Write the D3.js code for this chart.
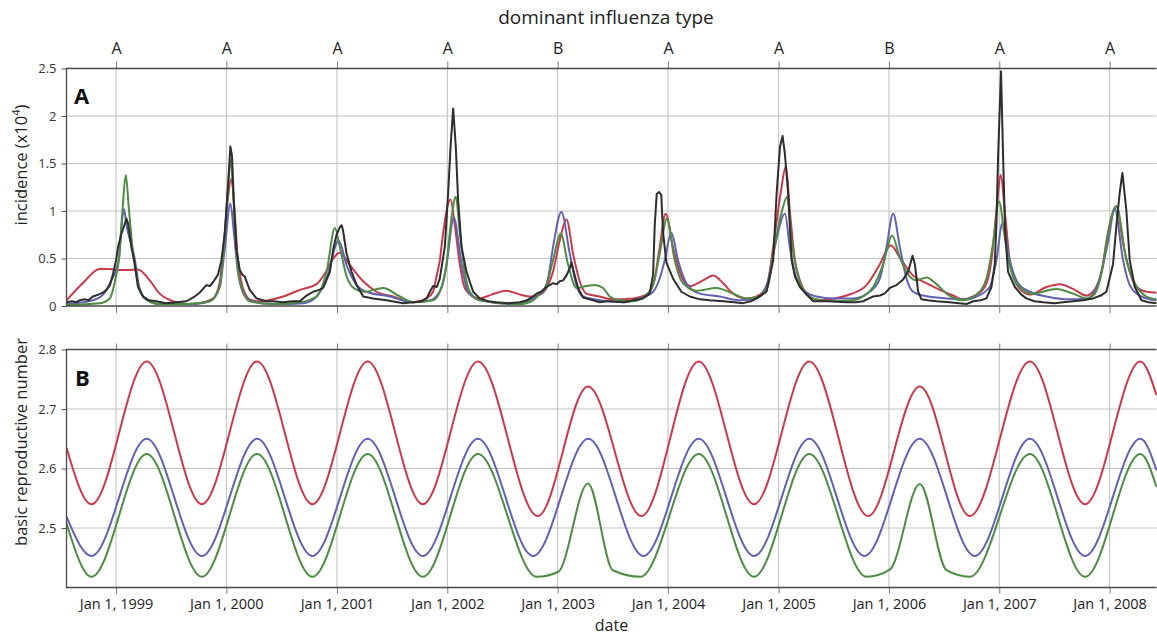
<!DOCTYPE html>
<html>
<head>
<meta charset="utf-8">
<script src="https://cdn.jsdelivr.net/npm/d3@7"></script>
<style>
  body { margin: 0; background: #fff; }
  svg { display: block; font-family: "Open Sans", sans-serif; }
</style>
</head>
<body>
<svg id="chart" width="1157" height="636"></svg>
<script>
// dates are decimal years
const seasonYears = [1999, 2000, 2001, 2002, 2003, 2004, 2005, 2006, 2007, 2008];
const dominantType = ['A', 'A', 'A', 'A', 'B', 'A', 'A', 'B', 'A', 'A'];
const dateRange = [1998.551, 2008.424];
const incidenceTicks = [0, 0.5, 1, 1.5, 2, 2.5];
const r0Ticks = [2.5, 2.6, 2.7, 2.8];

// panel A: incidence (x10^4)
const observed = [
  [1998.551, 0.04], [1998.60, 0.05], [1998.64, 0.04], [1998.67, 0.06], [1998.72, 0.07], [1998.75, 0.06],
  [1998.79, 0.10], [1998.84, 0.12], [1998.88, 0.14], [1998.913, 0.17], [1998.945, 0.22], [1998.973, 0.34],
  [1999.00, 0.48], [1999.018, 0.62], [1999.049, 0.76], [1999.075, 0.85], [1999.094, 0.92], [1999.109, 0.87],
  [1999.139, 0.62], [1999.169, 0.45], [1999.199, 0.20], [1999.245, 0.10], [1999.30, 0.06], [1999.366, 0.05],
  [1999.45, 0.03], [1999.55, 0.04], [1999.638, 0.05], [1999.70, 0.09], [1999.758, 0.14], [1999.819, 0.22],
  [1999.85, 0.21], [1999.879, 0.25], [1999.924, 0.33], [1999.955, 0.48], [1999.985, 0.76], [2000.014, 1.25],
  [2000.036, 1.68], [2000.051, 1.58], [2000.069, 1.05], [2000.091, 0.59], [2000.121, 0.38], [2000.145, 0.33],
  [2000.166, 0.31], [2000.211, 0.17], [2000.272, 0.08], [2000.362, 0.05], [2000.422, 0.05], [2000.513, 0.04],
  [2000.60, 0.05], [2000.664, 0.05], [2000.725, 0.11], [2000.784, 0.15], [2000.84, 0.17], [2000.875, 0.19],
  [2000.936, 0.36], [2000.966, 0.60], [2000.996, 0.75], [2001.015, 0.80], [2001.026, 0.83], [2001.042, 0.85],
  [2001.054, 0.80], [2001.087, 0.55], [2001.132, 0.36], [2001.178, 0.22], [2001.237, 0.10], [2001.328, 0.08],
  [2001.449, 0.06], [2001.600, 0.03], [2001.690, 0.04], [2001.77, 0.05], [2001.812, 0.08], [2001.842, 0.15],
  [2001.871, 0.21], [2001.905, 0.20], [2001.932, 0.29], [2001.977, 0.62], [2002.007, 1.18], [2002.029, 1.67],
  [2002.053, 2.08], [2002.077, 1.67], [2002.098, 1.11], [2002.129, 0.62], [2002.174, 0.36], [2002.234, 0.15],
  [2002.294, 0.08], [2002.37, 0.05], [2002.446, 0.04], [2002.55, 0.03], [2002.657, 0.04], [2002.72, 0.06],
  [2002.777, 0.10], [2002.808, 0.13], [2002.85, 0.15], [2002.899, 0.20], [2002.958, 0.24], [2002.99, 0.23],
  [2003.019, 0.26], [2003.050, 0.27], [2003.080, 0.32], [2003.110, 0.40], [2003.125, 0.46], [2003.146, 0.36],
  [2003.185, 0.19], [2003.230, 0.09], [2003.321, 0.06], [2003.381, 0.04], [2003.45, 0.05], [2003.502, 0.05],
  [2003.60, 0.04], [2003.683, 0.06], [2003.774, 0.08], [2003.834, 0.13], [2003.865, 0.33], [2003.880, 0.85],
  [2003.898, 1.18], [2003.919, 1.20], [2003.939, 1.17], [2003.955, 0.78], [2003.985, 0.46], [2004.045, 0.29],
  [2004.121, 0.15], [2004.197, 0.10], [2004.29, 0.07], [2004.378, 0.06], [2004.50, 0.05], [2004.60, 0.04],
  [2004.679, 0.03], [2004.75, 0.05], [2004.801, 0.08], [2004.891, 0.15], [2004.951, 0.48], [2004.982, 1.18],
  [2005.012, 1.67], [2005.036, 1.79], [2005.057, 1.60], [2005.087, 1.18], [2005.118, 0.48], [2005.148, 0.31],
  [2005.193, 0.20], [2005.254, 0.12], [2005.313, 0.05], [2005.45, 0.05], [2005.616, 0.04], [2005.70, 0.04],
  [2005.766, 0.05], [2005.82, 0.08], [2005.857, 0.10], [2005.918, 0.11], [2005.96, 0.13], [2006.008, 0.19],
  [2006.069, 0.22], [2006.129, 0.28], [2006.174, 0.36], [2006.214, 0.53], [2006.235, 0.44], [2006.265, 0.15],
  [2006.295, 0.07], [2006.35, 0.06], [2006.431, 0.05], [2006.55, 0.04], [2006.703, 0.02], [2006.763, 0.05],
  [2006.83, 0.06], [2006.884, 0.08], [2006.929, 0.20], [2006.959, 0.44], [2006.974, 0.85], [2006.989, 1.56],
  [2007.016, 2.47], [2007.035, 1.56], [2007.053, 0.78], [2007.080, 0.36], [2007.141, 0.20], [2007.20, 0.12],
  [2007.246, 0.08], [2007.32, 0.05], [2007.397, 0.04], [2007.50, 0.03], [2007.580, 0.04], [2007.669, 0.05],
  [2007.76, 0.06], [2007.850, 0.08], [2007.920, 0.11], [2007.971, 0.15], [2008.031, 0.44], [2008.062, 0.85],
  [2008.092, 1.20], [2008.116, 1.40], [2008.152, 1.00], [2008.182, 0.48], [2008.228, 0.20], [2008.288, 0.06],
  [2008.35, 0.04], [2008.424, 0.03]
];

const modelRed = [
  [1998.551, 0.06], [1998.698, 0.24], [1998.852, 0.39], [1998.94, 0.39], [1999.03, 0.38], [1999.10, 0.38],
  [1999.199, 0.385], [1999.305, 0.27], [1999.396, 0.13], [1999.516, 0.05], [1999.638, 0.02], [1999.76, 0.03],
  [1999.88, 0.08], [1999.94, 0.25], [1999.98, 0.70], [2000.015, 1.15], [2000.045, 1.34], [2000.075, 1.00],
  [2000.10, 0.55], [2000.13, 0.28], [2000.17, 0.13], [2000.23, 0.06], [2000.302, 0.05], [2000.513, 0.10],
  [2000.664, 0.17], [2000.815, 0.23], [2000.906, 0.37], [2000.966, 0.50], [2001.026, 0.56], [2001.117, 0.43],
  [2001.237, 0.26], [2001.359, 0.15], [2001.509, 0.10], [2001.690, 0.04], [2001.812, 0.08], [2001.871, 0.15],
  [2001.90, 0.30], [2001.932, 0.48], [2001.96, 0.75], [2002.029, 1.12], [2002.068, 0.85], [2002.113, 0.44],
  [2002.158, 0.19], [2002.234, 0.10], [2002.294, 0.08], [2002.40, 0.12], [2002.536, 0.16], [2002.66, 0.12],
  [2002.747, 0.10], [2002.838, 0.12], [2002.899, 0.19], [2002.958, 0.36], [2003.019, 0.69], [2003.080, 0.91],
  [2003.140, 0.55], [2003.200, 0.26], [2003.261, 0.13], [2003.381, 0.10], [2003.50, 0.07], [2003.683, 0.08],
  [2003.819, 0.13], [2003.880, 0.29], [2003.925, 0.62], [2003.979, 0.97], [2004.045, 0.62], [2004.106, 0.36],
  [2004.197, 0.21], [2004.317, 0.27], [2004.408, 0.32], [2004.498, 0.24], [2004.589, 0.13], [2004.710, 0.08],
  [2004.801, 0.10], [2004.891, 0.20], [2004.951, 0.62], [2005.02, 1.20], [2005.066, 1.47], [2005.102, 1.00],
  [2005.148, 0.48], [2005.193, 0.27], [2005.254, 0.13], [2005.374, 0.06], [2005.465, 0.07], [2005.616, 0.11],
  [2005.797, 0.22], [2005.918, 0.44], [2006.017, 0.64], [2006.099, 0.51], [2006.219, 0.32], [2006.340, 0.24],
  [2006.461, 0.17], [2006.582, 0.11], [2006.672, 0.07], [2006.763, 0.10], [2006.869, 0.20], [2006.929, 0.48],
  [2006.974, 1.00], [2007.014, 1.38], [2007.050, 1.00], [2007.095, 0.48], [2007.171, 0.20], [2007.276, 0.12],
  [2007.427, 0.20], [2007.548, 0.23], [2007.669, 0.18], [2007.790, 0.11], [2007.850, 0.15], [2007.926, 0.36],
  [2007.986, 0.78], [2008.062, 1.05], [2008.122, 0.66], [2008.182, 0.36], [2008.243, 0.20], [2008.333, 0.15],
  [2008.424, 0.14]
];

const modelBlue = [
  [1998.551, 0.02], [1998.79, 0.06], [1998.882, 0.12], [1998.95, 0.25], [1999.027, 0.50], [1999.05, 0.85],
  [1999.072, 1.02], [1999.095, 0.85], [1999.169, 0.50], [1999.21, 0.20], [1999.27, 0.07], [1999.40, 0.02],
  [1999.70, 0.02], [1999.85, 0.05], [1999.94, 0.20], [1999.985, 0.60], [2000.036, 1.08], [2000.07, 0.75],
  [2000.10, 0.40], [2000.15, 0.15], [2000.23, 0.05], [2000.45, 0.02], [2000.70, 0.03], [2000.815, 0.10],
  [2000.906, 0.29], [2001.015, 0.69], [2001.087, 0.43], [2001.178, 0.22], [2001.268, 0.15], [2001.479, 0.10],
  [2001.690, 0.04], [2001.85, 0.06], [2001.95, 0.20], [2001.993, 0.44], [2002.059, 0.93], [2002.129, 0.44],
  [2002.188, 0.15], [2002.294, 0.06], [2002.60, 0.02], [2002.777, 0.08], [2002.868, 0.15], [2002.913, 0.29],
  [2002.958, 0.62], [2003.034, 0.99], [2003.110, 0.55], [2003.170, 0.22], [2003.230, 0.10], [2003.381, 0.06],
  [2003.60, 0.04], [2003.744, 0.08], [2003.865, 0.15], [2003.925, 0.29], [2003.970, 0.48], [2004.031, 0.77],
  [2004.091, 0.48], [2004.167, 0.24], [2004.287, 0.13], [2004.468, 0.10], [2004.650, 0.06], [2004.80, 0.08],
  [2004.90, 0.25], [2004.97, 0.65], [2005.057, 0.97], [2005.102, 0.62], [2005.148, 0.34], [2005.223, 0.17],
  [2005.344, 0.10], [2005.495, 0.08], [2005.676, 0.08], [2005.827, 0.15], [2005.918, 0.29], [2005.978, 0.62],
  [2006.038, 0.97], [2006.099, 0.62], [2006.159, 0.29], [2006.219, 0.15], [2006.310, 0.11], [2006.522, 0.08],
  [2006.703, 0.07], [2006.793, 0.10], [2006.914, 0.20], [2006.974, 0.48], [2007.029, 0.87], [2007.095, 0.48],
  [2007.171, 0.24], [2007.276, 0.15], [2007.427, 0.10], [2007.639, 0.07], [2007.80, 0.08], [2007.90, 0.25],
  [2007.99, 0.70], [2008.046, 1.03], [2008.122, 0.48], [2008.182, 0.22], [2008.288, 0.10], [2008.424, 0.06]
];

const modelGreen = [
  [1998.551, 0.01], [1998.852, 0.03], [1998.943, 0.08], [1998.997, 0.30], [1999.027, 0.50], [1999.058, 1.00],
  [1999.088, 1.38], [1999.118, 1.00], [1999.160, 0.50], [1999.188, 0.30], [1999.26, 0.08], [1999.396, 0.02],
  [1999.638, 0.02], [1999.85, 0.05], [1999.939, 0.20], [1999.976, 0.60], [2000.012, 1.20], [2000.039, 1.54],
  [2000.066, 1.10], [2000.093, 0.55], [2000.139, 0.18], [2000.211, 0.05], [2000.422, 0.02], [2000.664, 0.04],
  [2000.815, 0.10], [2000.861, 0.19], [2000.906, 0.36], [2000.981, 0.82], [2001.026, 0.62], [2001.087, 0.31],
  [2001.162, 0.18], [2001.25, 0.15], [2001.419, 0.19], [2001.570, 0.10], [2001.690, 0.04], [2001.871, 0.06],
  [2001.932, 0.15], [2001.993, 0.44], [2002.03, 0.85], [2002.077, 1.15], [2002.113, 0.78], [2002.158, 0.36],
  [2002.204, 0.15], [2002.294, 0.06], [2002.657, 0.02], [2002.777, 0.06], [2002.838, 0.13], [2002.899, 0.22],
  [2002.958, 0.48], [2003.028, 0.76], [2003.094, 0.44], [2003.170, 0.19], [2003.261, 0.21], [2003.336, 0.22],
  [2003.411, 0.19], [2003.472, 0.10], [2003.56, 0.06], [2003.683, 0.05], [2003.774, 0.09], [2003.865, 0.22],
  [2003.925, 0.55], [2003.991, 0.92], [2004.061, 0.48], [2004.136, 0.24], [2004.257, 0.16], [2004.438, 0.19],
  [2004.589, 0.13], [2004.710, 0.08], [2004.82, 0.10], [2004.90, 0.20], [2004.96, 0.60], [2005.03, 1.00],
  [2005.078, 1.15], [2005.118, 0.69], [2005.163, 0.38], [2005.223, 0.17], [2005.313, 0.08], [2005.495, 0.05],
  [2005.676, 0.06], [2005.766, 0.10], [2005.857, 0.20], [2005.948, 0.44], [2006.029, 0.74], [2006.099, 0.51],
  [2006.189, 0.31], [2006.250, 0.27], [2006.340, 0.30], [2006.431, 0.23], [2006.522, 0.13], [2006.672, 0.06],
  [2006.793, 0.12], [2006.884, 0.29], [2006.944, 0.66], [2006.998, 1.10], [2007.050, 0.72], [2007.110, 0.36],
  [2007.201, 0.18], [2007.306, 0.13], [2007.518, 0.18], [2007.669, 0.13], [2007.79, 0.08], [2007.86, 0.12],
  [2007.93, 0.36], [2007.99, 0.78], [2008.062, 1.05], [2008.152, 0.48], [2008.228, 0.24], [2008.333, 0.10],
  [2008.424, 0.07]
];

// panel B: basic reproductive number (turning points)
const r0Red = [
  [1998.551, 2.635], [1998.778, 2.54], [1999.278, 2.78], [1999.778, 2.54], [2000.278, 2.78], [2000.778, 2.54],
  [2001.278, 2.78], [2001.778, 2.54], [2002.278, 2.78], [2002.82, 2.52], [2003.275, 2.738], [2003.759, 2.52],
  [2004.278, 2.78], [2004.778, 2.54], [2005.278, 2.78], [2005.812, 2.52], [2006.28, 2.738], [2006.733, 2.52],
  [2007.278, 2.78], [2007.778, 2.54], [2008.278, 2.78], [2008.424, 2.723]
];
const r0Blue = [
  [1998.551, 2.519], [1998.778, 2.453], [1999.278, 2.65], [1999.778, 2.453], [2000.278, 2.65], [2000.778, 2.453],
  [2001.278, 2.65], [2001.778, 2.453], [2002.278, 2.65], [2002.778, 2.453], [2003.278, 2.65], [2003.778, 2.453],
  [2004.278, 2.65], [2004.778, 2.453], [2005.278, 2.65], [2005.778, 2.453], [2006.278, 2.65], [2006.778, 2.453],
  [2007.278, 2.65], [2007.778, 2.453], [2008.278, 2.65], [2008.424, 2.597]
];
const r0Green = [
  [1998.551, 2.508], [1998.778, 2.418], [1999.278, 2.6245], [1999.778, 2.418], [2000.278, 2.6245], [2000.778, 2.418],
  [2001.278, 2.6245], [2001.778, 2.418], [2002.278, 2.6245], [2002.81, 2.418], [2003.004, 2.426], [2003.275, 2.575],
  [2003.50, 2.429], [2003.75, 2.418], [2004.278, 2.6245], [2004.778, 2.418], [2005.278, 2.6245], [2005.797, 2.418],
  [2006.008, 2.430], [2006.28, 2.574], [2006.522, 2.429], [2006.733, 2.418], [2007.278, 2.6245], [2007.778, 2.418],
  [2008.278, 2.6245], [2008.424, 2.569]
];

const colors = { red: '#c9394a', blue: '#6161b3', green: '#4e8c44', black: '#2d2d2d' };

// decimal year -> Date
function toDate(t) {
  const y = Math.floor(t);
  const a = new Date(y, 0, 1), b = new Date(y + 1, 0, 1);
  return new Date(+a + (t - y) * (b - a));
}

const svg = d3.select('#chart');
const left = 66.5, right = 1156.5;
const panelA = { top: 68.5, bottom: 306 };
const panelB = { top: 349.5, bottom: 587.5 };

const x = d3.scaleTime().domain(dateRange.map(toDate)).range([left, right]);
const yA = d3.scaleLinear().domain([0, 2.5]).range([panelA.bottom, panelA.top]);
const yB = d3.scaleLinear().domain([2.4, 2.8]).range([panelB.bottom, panelB.top]);
const yearTicks = seasonYears.map(y => new Date(y, 0, 1));

function drawPanel(panel, y, gridVals, tickVals, id) {
  const g = svg.append('g');

  // grid
  g.selectAll('.hgrid').data(gridVals).enter().append('line')
    .attr('x1', left).attr('x2', right)
    .attr('y1', d => y(d)).attr('y2', d => y(d))
    .attr('stroke', '#c4c4c4').attr('stroke-width', 1.1);
  g.selectAll('.vgrid').data(yearTicks).enter().append('line')
    .attr('x1', d => x(d)).attr('x2', d => x(d))
    .attr('y1', panel.top).attr('y2', panel.bottom)
    .attr('stroke', '#c4c4c4').attr('stroke-width', 1.1);

  svg.append('clipPath').attr('id', id)
    .append('rect').attr('x', left).attr('y', panel.top - 2)
    .attr('width', right - left + 1).attr('height', panel.bottom - panel.top + 2);

  // left axis
  const ya = svg.append('g').attr('transform', `translate(${left},0)`)
    .call(d3.axisLeft(y).tickValues(tickVals).tickSize(5).tickPadding(5).tickFormat(d3.format('~g')));
  ya.select('.domain').remove();
  ya.selectAll('line').attr('stroke', '#555');
  ya.selectAll('text').attr('font-size', 13).attr('fill', '#333').attr('font-family', '"Open Sans", sans-serif');

  return g;
}

drawPanel(panelA, yA, [0.5, 1, 1.5, 2], incidenceTicks, 'clipA');
drawPanel(panelB, yB, [2.5, 2.6, 2.7], r0Ticks, 'clipB');

// tick rows along the frames
function tickRow(axis, ty, size, fmt, pad) {
  const g = svg.append('g').attr('transform', `translate(0,${ty})`)
    .call(axis(x).tickValues(yearTicks).tickSize(size).tickPadding(pad).tickFormat(fmt));
  g.select('.domain').remove();
  g.selectAll('line').attr('stroke', '#777');
  return g;
}
const topRow = tickRow(d3.axisTop, panelA.top, 7, (d, i) => dominantType[i], 8);
topRow.selectAll('text').attr('font-size', 16).attr('fill', '#222').attr('font-family', '"Open Sans", sans-serif');
tickRow(d3.axisBottom, panelA.bottom, 7, () => '', 0);
tickRow(d3.axisTop, panelB.top, 6, () => '', 0);
const botRow = tickRow(d3.axisBottom, panelB.bottom, 6, d3.timeFormat('%b %-d, %Y'), 5.5);
botRow.selectAll('text').attr('font-size', 14.5).attr('fill', '#222').attr('font-family', '"Open Sans", sans-serif');

// series
function drawLines(list, y, clip, curve) {
  list.forEach(s => {
    const line = d3.line()
      .x(d => x(toDate(d[0])))
      .y(d => y(d[1]))
      .curve(s.curve || curve);
    svg.append('path')
      .datum(s.data)
      .attr('clip-path', `url(#${clip})`)
      .attr('fill', 'none')
      .attr('stroke', s.color)
      .attr('stroke-width', s.width || 2)
      .attr('stroke-linejoin', 'round')
      .attr('d', line);
  });
}

drawLines([
  { data: modelRed, color: colors.red },
  { data: modelBlue, color: colors.blue },
  { data: modelGreen, color: colors.green },
  { data: observed, color: colors.black, curve: d3.curveLinear, width: 2 }
], yA, 'clipA', d3.curveMonotoneX);

drawLines([
  { data: r0Red, color: colors.red },
  { data: r0Blue, color: colors.blue },
  { data: r0Green, color: colors.green }
], yB, 'clipB', d3.curveMonotoneX);

// frames (top, bottom, left)
[panelA, panelB].forEach(p => {
  svg.append('path')
    .attr('d', `M${right},${p.top}H${left}V${p.bottom}H${right}`)
    .attr('fill', 'none').attr('stroke', '#4a4a4a').attr('stroke-width', 1.3);
});

// labels
svg.append('text').attr('x', 606).attr('y', 24).attr('text-anchor', 'middle')
  .attr('font-size', 19).attr('fill', '#222').text('dominant influenza type');

svg.append('text').attr('x', 74).attr('y', 103.5).attr('font-size', 22).attr('font-weight', 'bold')
  .attr('fill', '#111').text('A');
svg.append('text').attr('x', 75).attr('y', 386).attr('font-size', 22).attr('font-weight', 'bold')
  .attr('fill', '#111').text('B');

const yLabA = svg.append('text').attr('transform', 'translate(27,165) rotate(-90)')
  .attr('text-anchor', 'middle').attr('font-size', 16.5).attr('fill', '#222');
yLabA.append('tspan').text('incidence (x10');
yLabA.append('tspan').attr('font-size', 11).attr('dy', -7).text('4');
yLabA.append('tspan').attr('dy', 7).text(')');

svg.append('text').attr('transform', 'translate(26.5,442) rotate(-90)')
  .attr('text-anchor', 'middle').attr('font-size', 16.5).attr('fill', '#222')
  .text('basic reproductive number');

svg.append('text').attr('x', 611.5).attr('y', 631).attr('text-anchor', 'middle')
  .attr('font-size', 16).attr('fill', '#222').text('date');
</script>
</body>
</html>
